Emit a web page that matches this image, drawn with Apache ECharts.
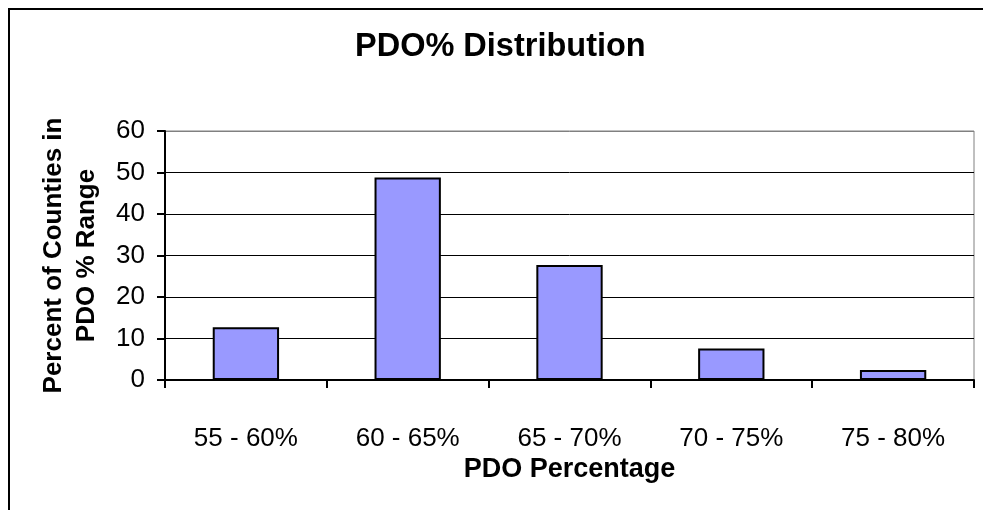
<!DOCTYPE html>
<html>
<head>
<meta charset="utf-8">
<script src="https://cdn.jsdelivr.net/npm/echarts@6/dist/echarts.min.js"></script>
<style>
html,body{margin:0;padding:0;background:#fff;}
#chart{width:983px;height:510px;}
</style>
</head>
<body>
<div id="chart"></div>
<script>
const categories = ['55 - 60%', '60 - 65%', '65 - 70%', '70 - 75%', '75 - 80%'];
const values = [12.7, 48.8, 27.7, 7.6, 2.4];
const titleText = 'PDO% Distribution';
const xAxisName = 'PDO Percentage';
const yAxisName = 'Percent of Counties in\nPDO % Range';

const FONT = '"Liberation Sans", Arial, sans-serif';
const chart = echarts.init(document.getElementById('chart'), null, {renderer: 'canvas'});
chart.setOption({
  animation: false,
  backgroundColor: '#ffffff',
  title: {
    text: titleText,
    left: 355,
    top: 31,
    padding: 0,
    textStyle: {fontFamily: FONT, fontSize: 32.5, fontWeight: 'bold', color: '#000'}
  },
  graphic: [{
    type: 'rect',
    shape: {x: 9, y: 9, width: 1000, height: 520},
    style: {fill: null, stroke: '#000', lineWidth: 2},
    silent: true
  }],
  grid: {
    left: 165, right: 9, top: 131, bottom: 130,
    show: true, borderColor: '#808080', borderWidth: 1, backgroundColor: 'transparent'
  },
  xAxis: {
    type: 'category',
    data: categories,
    name: xAxisName,
    nameLocation: 'middle',
    nameGap: 76,
    nameTextStyle: {fontFamily: FONT, fontSize: 27, fontWeight: 'bold', color: '#000'},
    axisLine: {lineStyle: {color: '#000', width: 2}},
    axisTick: {show: true, inside: false, length: 8, lineStyle: {color: '#000', width: 2}},
    axisLabel: {fontFamily: FONT, fontSize: 26, color: '#000', margin: 46},
    splitLine: {show: false}
  },
  yAxis: {
    type: 'value',
    min: 0, max: 60, interval: 10,
    name: yAxisName,
    nameLocation: 'middle',
    nameRotate: 90,
    nameGap: 62,
    nameTextStyle: {fontFamily: FONT, fontSize: 26, fontWeight: 'bold', color: '#000', lineHeight: 33, align: 'center'},
    axisLine: {show: true, lineStyle: {color: '#000', width: 2}},
    axisTick: {show: true, inside: false, length: 8, lineStyle: {color: '#000', width: 2}},
    axisLabel: {fontFamily: FONT, fontSize: 26, color: '#000', margin: 20},
    splitLine: {show: true, lineStyle: {color: ['#000', '#000', '#000', '#000', '#000', '#000', '#808080'], width: 1}}
  },
  series: [{
    type: 'bar',
    data: values,
    barWidth: '41%',
    itemStyle: {color: '#9999FF', borderColor: '#000', borderWidth: 2}
  }]
});
</script>
</body>
</html>
